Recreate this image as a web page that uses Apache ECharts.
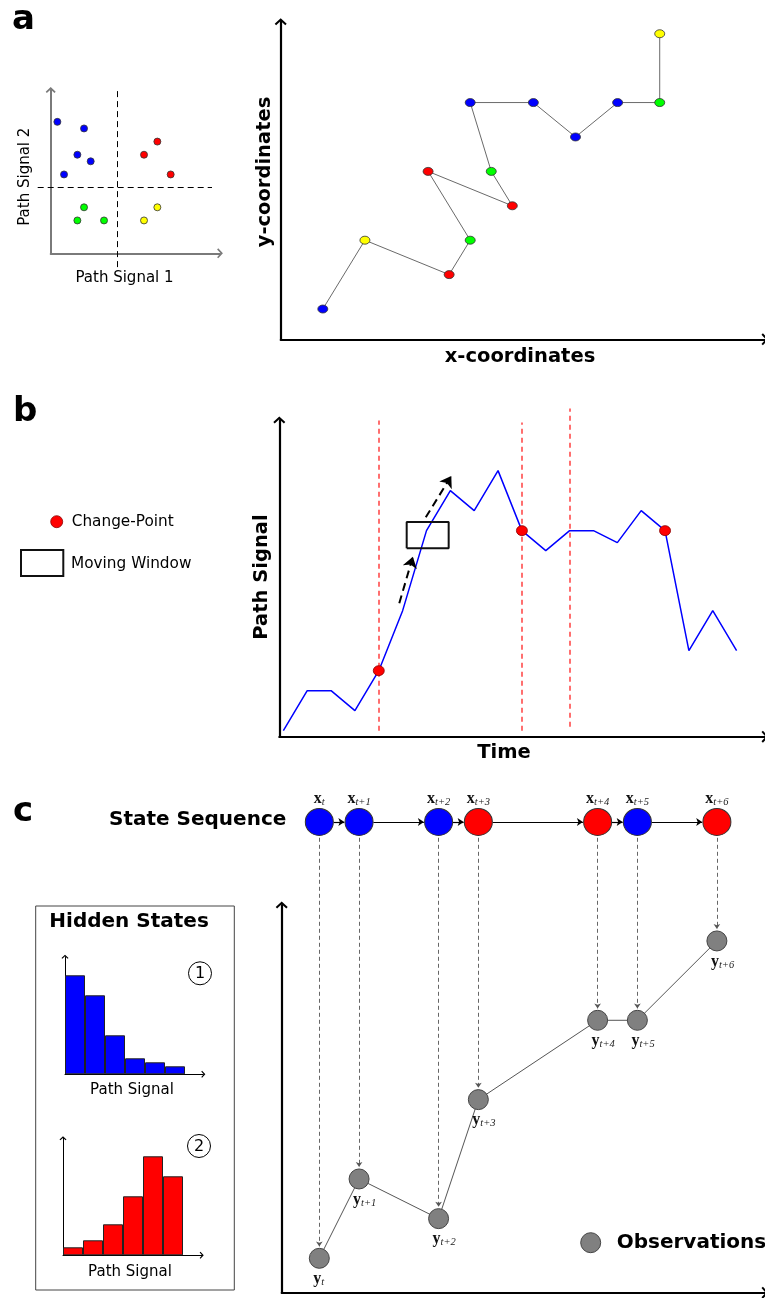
<!DOCTYPE html>
<html>
<head>
<meta charset="utf-8">
<script src="https://cdn.jsdelivr.net/npm/echarts@6/dist/echarts.min.js"></script>
<style>
  html, body { margin: 0; padding: 0; background: #fff; }
  #chart { width: 765px; height: 1298px; }
</style>
</head>
<body>
<div id="chart"></div>
<script>
// ---- panel a, left: clusters in the signal plane
const clusterBlue   = [[1, 20], [5, 19], [4, 15], [6, 14], [2, 12]];
const clusterRed    = [[16, 17], [14, 15], [18, 12]];
const clusterGreen  = [[5, 7], [4, 5], [8, 5]];
const clusterYellow = [[16, 7], [14, 5]];
const quadSplit = 10;

// ---- panel a, right: path in x/y coordinates
const pathX     = [2, 4, 8, 9, 7, 11, 10, 9, 12, 14, 16, 18, 18];
const pathY     = [1, 3, 2, 3, 5, 4, 5, 7, 7, 6, 7, 7, 9];
const pathColor = ['blue', 'yellow', 'red', 'green', 'red', 'red', 'green', 'blue', 'blue', 'blue', 'blue', 'green', 'yellow'];

// ---- panel b: path signal over time
const timeSignal   = [0, 2, 2, 1, 3, 6, 10, 12, 11, 13, 10, 9, 10, 10, 9.4, 11, 10, 4, 6, 4];
const changePoints = [4, 10, 16];
const splitLinesX  = [4, 10, 12];
const splitTop     = [15.5, 15.4, 16.1];
const splitBottom  = [0, 0, 0.2];
const windowX = [5.17, 6.93];
const windowY = [9.12, 10.43];
const moveArrows = [[[4.86, 6.37], [5.43, 8.7]], [[5.97, 10.67], [7.04, 12.73]]];

// ---- panel c: hidden state sequence and observations
const stepPos    = [0, 1, 3, 4, 7, 8, 10];
const stepSub    = ['t', 't+1', 't+2', 't+3', 't+4', 't+5', 't+6'];
const stateSeq   = [1, 1, 1, 2, 2, 1, 2];
const obsValues  = [0, 2, 1, 4, 6, 6, 8];
const stateRow   = 11;
const hist1 = [99, 79, 39, 16, 12, 8];
const hist2 = [8, 15, 31, 59, 99, 79];

const COLORS = { blue: '#0000ff', red: '#ff0000', green: '#00ff00', yellow: '#ffff00' };
const FONT = 'DejaVu Sans';
const SERIF = 'Liberation Serif';
// open chevron, tip up (rotated by echarts along the axis)
const CHEV = 'path://M0,5.6L6,0L12,5.6L10.6,7L6,2.8L1.4,7Z';

function ax(grid, min, max, color, width, size) {
  return {
    type: 'value', gridIndex: grid, min: min, max: max, silent: true,
    axisLine: { show: true, onZero: false, lineStyle: { color: color, width: width },
                symbol: ['none', CHEV], symbolSize: size },
    axisTick: { show: false }, axisLabel: { show: false }, splitLine: { show: false }
  };
}

function dots(name, data, color, grid, size) {
  return {
    name: name, type: 'scatter', xAxisIndex: grid, yAxisIndex: grid,
    data: data, symbolSize: size, z: 5,
    itemStyle: { color: color, borderColor: '#333', borderWidth: 0.8, opacity: 1 }
  };
}

function segLines(grid, segs, style, symbol, symSize) {
  return {
    type: 'lines', coordinateSystem: 'cartesian2d', xAxisIndex: grid, yAxisIndex: grid,
    clip: false, silent: true, z: 3,
    symbol: symbol || ['none', 'none'], symbolSize: symSize || 8,
    lineStyle: Object.assign({ opacity: 1, curveness: 0 }, style),
    data: segs.map(s => ({ coords: s }))
  };
}

const subRich = {
  v: { fontFamily: SERIF, fontWeight: 'bold', fontSize: 16, color: '#111', lineHeight: 16 },
  s: { fontFamily: SERIF, fontStyle: 'italic', fontSize: 10.5, color: '#222', lineHeight: 16, padding: [7, 0, 0, 0] }
};

const chart = echarts.init(document.getElementById('chart'), null, { renderer: 'canvas' });

const grids = [
  { left: 50.7, top: 90, width: 169.3, height: 163.3 },
  { left: 280.7, top: 21.7, width: 484.3, height: 317.6 },
  { left: 279.3, top: 420, width: 485.7, height: 316.7 },
  { left: 281.7, top: 905, width: 483.3, height: 387.7 },
  { left: 65, top: 956.7, width: 138.3, height: 117.6 },
  { left: 63, top: 1138.3, width: 138.7, height: 117 }
].map(g => Object.assign({ containLabel: false, outerBoundsMode: 'none' }, g));

const xAxes = [
  ax(0, 0, 25.4, '#7a7a7a', 2, [10, 6]),
  ax(1, 0, 23, '#000', 2.2, [12, 7]),
  ax(2, -0.17, 20.19, '#000', 2.2, [12, 7]),
  ax(3, -0.946, 11.21, '#000', 2.2, [12, 7]),
  ax(4, 0, 6.915, '#000', 1, [7, 4.5]),
  ax(5, 0, 6.935, '#000', 1, [7, 4.5])
];
const yAxes = [
  ax(0, 0, 24.85, '#7a7a7a', 2, [10, 6]),
  ax(1, 0.12, 9.35, '#000', 2.2, [12, 7]),
  ax(2, -0.3, 15.53, '#000', 2.2, [12, 7]),
  ax(3, -0.867, 8.906, '#000', 2.2, [12, 7]),
  ax(4, 0, 117.6, '#000', 1, [7, 4.5]),
  ax(5, 0, 117, '#000', 1, [7, 4.5])
];

const series = [];

// panel a left
series.push(segLines(0, [[[quadSplit, -2.1], [quadSplit, 24.85]], [[-1.95, quadSplit], [24.2, quadSplit]]],
  { color: '#000', width: 1, type: [6, 4] }));
series.push(dots('blue', clusterBlue, COLORS.blue, 0, 7));
series.push(dots('red', clusterRed, COLORS.red, 0, 7));
series.push(dots('green', clusterGreen, COLORS.green, 0, 7));
series.push(dots('yellow', clusterYellow, COLORS.yellow, 0, 7));

// panel a right
series.push({
  type: 'line', xAxisIndex: 1, yAxisIndex: 1, data: pathX.map((x, i) => [x, pathY[i]]),
  showSymbol: false, symbol: 'none', lineStyle: { color: '#6a6a6a', width: 1 }, z: 2, silent: true
});
series.push({
  type: 'scatter', xAxisIndex: 1, yAxisIndex: 1, symbolSize: [10, 8], z: 5,
  data: pathX.map((x, i) => ({ value: [x, pathY[i]], itemStyle: { color: COLORS[pathColor[i]] } })),
  itemStyle: { borderColor: '#333', borderWidth: 0.8, opacity: 1 }
});

// panel b
series.push(segLines(2, splitLinesX.map((x, i) => [[x, splitBottom[i]], [x, splitTop[i]]]),
  { color: '#ff4040', width: 1.5, type: [5, 4] }));
series.push({
  type: 'line', xAxisIndex: 2, yAxisIndex: 2, data: timeSignal.map((v, i) => [i, v]),
  showSymbol: false, symbol: 'none', lineStyle: { color: '#0000ff', width: 1.5 }, z: 2, silent: true
});
series.push({
  type: 'scatter', xAxisIndex: 2, yAxisIndex: 2, symbolSize: [11, 10], z: 5,
  data: changePoints.map(i => [i, timeSignal[i]]),
  itemStyle: { color: '#ff0000', borderColor: '#8a0000', borderWidth: 0.8, opacity: 1 }
});
series.push({
  type: 'line', xAxisIndex: 2, yAxisIndex: 2, clip: false, silent: true, z: 4,
  data: [[windowX[0], windowY[0]], [windowX[1], windowY[0]], [windowX[1], windowY[1]],
         [windowX[0], windowY[1]], [windowX[0], windowY[0]]],
  showSymbol: false, symbol: 'none', lineStyle: { color: '#111', width: 2 }
});
series.push(segLines(2, moveArrows, { color: '#000', width: 2, type: [8, 5] }, ['none', 'arrow'], [8, 11]));

// panel c
series.push(segLines(3, stepPos.map((x, i) => [[x, 10.6], [x, obsValues[i] + 0.3]]),
  { color: '#555', width: 0.9, type: [4, 3] }, ['none', 'arrow'], [5, 5]));
series.push(segLines(3, stepPos.slice(0, -1).map((x, i) => [[x + 0.36, stateRow], [stepPos[i + 1] - 0.37, stateRow]]),
  { color: '#000', width: 1.2 }, ['none', 'arrow'], [5, 6]));
series.push({
  type: 'line', xAxisIndex: 3, yAxisIndex: 3, data: stepPos.map((x, i) => [x, obsValues[i]]),
  showSymbol: false, symbol: 'none', lineStyle: { color: '#555', width: 1 }, z: 2, silent: true
});
series.push({
  type: 'scatter', xAxisIndex: 3, yAxisIndex: 3, symbolSize: 20, z: 5, clip: false,
  data: stepPos.map((x, i) => [x, obsValues[i]]),
  itemStyle: { color: '#808080', borderColor: '#444', borderWidth: 1, opacity: 1 },
  label: {
    show: true, position: 'bottom', distance: 2, align: 'left', offset: [-6, 0],
    formatter: p => '{v|y}{s|' + stepSub[p.dataIndex] + '}', rich: subRich
  }
});
series.push({
  type: 'scatter', xAxisIndex: 3, yAxisIndex: 3, symbolSize: [28, 27], z: 5, clip: false,
  data: stepPos.map((x, i) => ({ value: [x, stateRow], itemStyle: { color: stateSeq[i] === 1 ? COLORS.blue : COLORS.red } })),
  itemStyle: { borderColor: '#333', borderWidth: 1, opacity: 1 },
  label: {
    show: true, position: 'top', distance: 1,
    formatter: p => '{v|x}{s|' + stepSub[p.dataIndex] + '}', rich: subRich
  }
});

// hidden state histograms
series.push({
  type: 'bar', xAxisIndex: 4, yAxisIndex: 4, barWidth: 20, silent: true,
  data: hist1.map((v, i) => [i + 0.5, v]),
  itemStyle: { color: '#0000ff', borderColor: '#222', borderWidth: 1 }
});
series.push({
  type: 'bar', xAxisIndex: 5, yAxisIndex: 5, barWidth: 20, silent: true,
  data: hist2.map((v, i) => [i + 0.5, v]),
  itemStyle: { color: '#ff0000', borderColor: '#222', borderWidth: 1 }
});

function txt(text, x, y, size, opts) {
  opts = opts || {};
  return {
    type: 'text', x: x, y: y, rotation: opts.rot || 0, silent: true, z: 10,
    style: {
      text: text, fill: '#000', fontFamily: FONT, fontSize: size,
      fontWeight: opts.bold ? 'bold' : 'normal',
      align: opts.align || 'center', verticalAlign: 'middle'
    }
  };
}

const graphic = [
  txt('a', 12, 20.5, 34, { bold: true, align: 'left' }),
  txt('Path Signal 1', 124.5, 277.7, 15),
  txt('Path Signal 2', 25, 176.7, 15, { rot: Math.PI / 2 }),
  txt('y-coordinates', 265, 172, 19.5, { bold: true, rot: Math.PI / 2 }),
  txt('x-coordinates', 520, 356.7, 19.5, { bold: true }),

  txt('b', 13, 412, 34, { bold: true, align: 'left' }),
  { type: 'circle', shape: { cx: 56.7, cy: 521.7, r: 6 }, style: { fill: '#ff0000', stroke: '#8a0000', lineWidth: 0.8 }, silent: true },
  txt('Change-Point', 71.7, 521.7, 15.3, { align: 'left' }),
  { type: 'rect', shape: { x: 21, y: 550, width: 42.3, height: 26 }, style: { fill: 'none', stroke: '#111', lineWidth: 2 }, silent: true },
  txt('Moving Window', 71, 563.7, 15.3, { align: 'left' }),
  txt('Path Signal', 262, 577, 19.5, { bold: true, rot: Math.PI / 2 }),
  txt('Time', 504, 752.7, 19.5, { bold: true }),

  txt('c', 13, 812, 34, { bold: true, align: 'left' }),
  txt('State Sequence', 109, 820, 20, { bold: true, align: 'left' }),
  { type: 'rect', shape: { x: 35.7, y: 906, width: 198.6, height: 384 }, style: { fill: 'none', stroke: '#444', lineWidth: 1 }, silent: true },
  txt('Hidden States', 49.3, 921.7, 20, { bold: true, align: 'left' }),
  { type: 'circle', shape: { cx: 200, cy: 973.3, r: 11.5 }, style: { fill: 'none', stroke: '#000', lineWidth: 1 }, silent: true },
  txt('1', 200, 973.8, 16),
  txt('Path Signal', 132, 1090, 15),
  { type: 'circle', shape: { cx: 199, cy: 1146, r: 11.5 }, style: { fill: 'none', stroke: '#000', lineWidth: 1 }, silent: true },
  txt('2', 199, 1146.5, 16),
  txt('Path Signal', 130, 1271.7, 15),
  { type: 'circle', shape: { cx: 590.7, cy: 1242.7, r: 10 }, style: { fill: '#808080', stroke: '#444', lineWidth: 1 }, silent: true },
  txt('Observations', 616.7, 1242.7, 20, { bold: true, align: 'left' })
];

chart.setOption({
  backgroundColor: '#fff',
  animation: false,
  grid: grids,
  xAxis: xAxes,
  yAxis: yAxes,
  series: series,
  graphic: graphic
});
</script>
</body>
</html>
